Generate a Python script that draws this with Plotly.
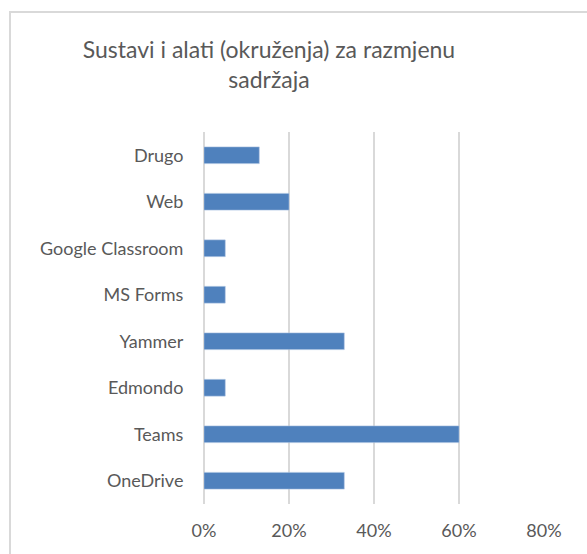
import plotly.graph_objects as go

categories = ["OneDrive", "Teams", "Edmondo", "Yammer", "MS Forms", "Google Classroom", "Web", "Drugo"]
values = [0.33, 0.60, 0.05, 0.33, 0.05, 0.05, 0.20, 0.13]
tick_vals = [0, 0.2, 0.4, 0.6, 0.8]
tick_text = ["0%", "20%", "40%", "60%", "80%"]
title_text = "Sustavi i alati (okruženja) za razmjenu<br>sadržaja"

FONT = "Lato, Open Sans, sans-serif"
GREY = "#595959"
GRID = "#d9d9d9"

fig = go.Figure(go.Bar(
    x=values, y=categories, orientation="h",
    marker=dict(color="#4f81bd", line=dict(color="#a9c1e0", width=0.6)),
))

W, H = 587, 554
L, R, T, B = 204, 43, 132, 50
pw, ph = W - L - R, H - T - B

fig.update_layout(
    width=W, height=H,
    margin=dict(l=L, r=R, t=T, b=B, autoexpand=False),
    paper_bgcolor="white", plot_bgcolor="white",
    bargap=0.64,
    showlegend=False,
    title=dict(text=title_text, x=269 / W, xanchor="center", y=1 - 58 / H, yanchor="top",
               font=dict(family=FONT, size=23, color=GREY)),
    font=dict(family=FONT, size=18, color=GREY),
    xaxis=dict(range=[0, 0.8], tickvals=tick_vals, ticktext=tick_text, automargin=False,
               showgrid=True, gridcolor=GRID, gridwidth=2,
               zeroline=True, zerolinecolor=GRID, zerolinewidth=2,
               showline=False, ticks="outside", ticklen=10, tickcolor="rgba(0,0,0,0)",
               tickfont=dict(family=FONT, size=18, color=GREY), fixedrange=True),
    yaxis=dict(showgrid=False, zeroline=False, showline=False, automargin=False,
               ticks="outside", ticklen=16, tickcolor="rgba(0,0,0,0)",
               tickfont=dict(family=FONT, size=18, color=GREY), fixedrange=True),
    shapes=[dict(type="rect", xref="paper", yref="paper",
                 x0=(10 - L) / pw, x1=(W + 200 - L) / pw,
                 y0=-(B + 200) / ph, y1=(H - B - 12) / ph,
                 line=dict(color=GRID, width=2), fillcolor="rgba(0,0,0,0)", layer="below")],
)

fig.write_html("out.html", config={"displayModeBar": False},
               post_script="document.body.style.margin='0';document.body.style.overflow='hidden';")
